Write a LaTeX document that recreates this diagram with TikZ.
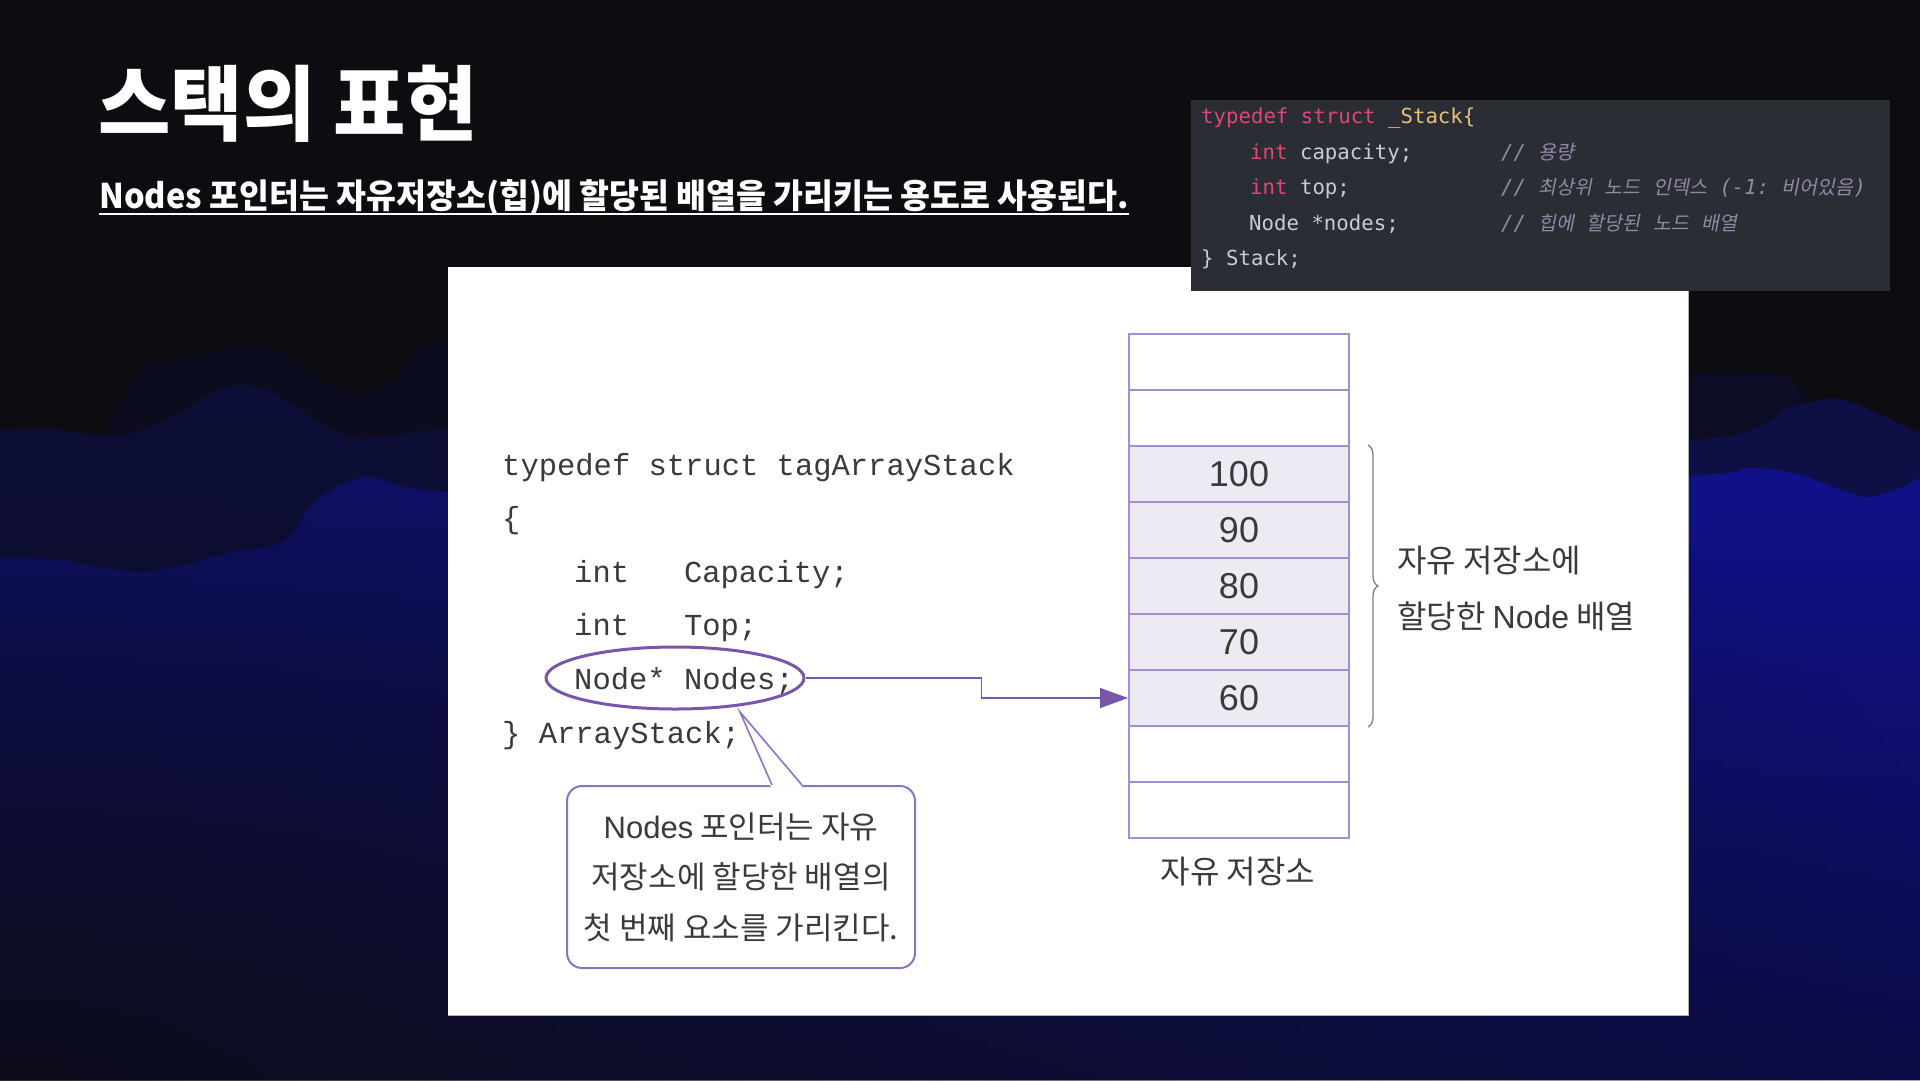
\documentclass[tikz,border=0pt]{standalone}
\usepackage{fontspec}
\usetikzlibrary{arrows.meta,decorations.pathreplacing,fadings,shapes.geometric}
\newfontfamily\krfont{Noto Sans CJK KR}
\newfontfamily\kritfont{Noto Sans CJK KR}[FakeSlant=0.2]
\newfontfamily\edfont{DejaVu Sans Mono}
\newfontfamily\pcode{Liberation Mono}
\newfontfamily\numfont{Liberation Sans}
\definecolor{bgtop}{HTML}{0C0C11}
\definecolor{waveA}{HTML}{0C0C24}
\definecolor{waveB}{HTML}{0E0F44}
\definecolor{waveCtop}{HTML}{10118A}
\definecolor{waveCbot}{HTML}{0C0C48}
\definecolor{boxbg}{HTML}{2B2D34}
\definecolor{kwpink}{HTML}{E0457B}
\definecolor{tyyel}{HTML}{E5C07B}
\definecolor{idgray}{HTML}{C8CCD4}
\definecolor{cmgray}{HTML}{8F8AA6}
\definecolor{ink}{HTML}{3A3A3A}
\definecolor{purp}{HTML}{7A56AB}
\definecolor{callpurp}{HTML}{8E72C2}
\definecolor{cellline}{HTML}{A58ED0}
\definecolor{cellfill}{HTML}{EEEAF4}
\definecolor{bracegray}{HTML}{7E7E7E}
\tikzfading[name=fadeblob, inner color=transparent!20, outer color=transparent!100]
\newcommand{\ko}[1]{{\kritfont\fontsize{19.5}{22}\selectfont #1}}
\tikzset{
  edline/.style={anchor=base west, inner sep=0, font=\edfont\fontsize{20.7}{25}\selectfont, text=idgray},
  edcomment/.style={anchor=base west, inner sep=0, font=\edfont\itshape\fontsize{20.7}{25}\selectfont, text=cmgray},
  pline/.style={anchor=base west, inner sep=0, font=\pcode\fontsize{30.5}{36}\selectfont, text=ink},
  cell/.style={draw=cellline, line width=2pt, minimum width=220pt, minimum height=56pt, inner sep=0, font=\numfont\fontsize{36}{40}\selectfont, text=ink},
  krlabel/.style={inner sep=0, font=\krfont\fontsize{32}{38}\selectfont, text=ink}
}
\begin{document}
\begin{tikzpicture}[x=1pt,y=-1pt]
\useasboundingbox (0,0) rectangle (1920,1080);
% background
\fill[bgtop] (0,0) rectangle (1920,1080);
\fill[waveA] (0,445) -- plot[smooth] coordinates {(100,440) (143,367) (200,355) (233,345) (267,347) (300,365) (333,387) (367,392) (400,375) (448,337) (700,320) (1000,330) (1300,340) (1688,372) (1780,374) (1812,402) (1845,400) (1920,433)} -- (1920,1080) -- (0,1080) -- cycle;
\fill[waveB] (0,430) -- plot[smooth] coordinates {(50,428) (117,436) (167,420) (200,400) (233,385) (267,390) (300,410) (350,437) (400,435) (448,430) (800,430) (1200,430) (1688,440) (1790,408) (1812,402) (1845,400) (1920,433)} -- (1920,1080) -- (0,1080) -- cycle;
\shade[top color=waveCtop, bottom color=waveCbot] (0,557) -- plot[smooth] coordinates {(67,560) (143,572) (233,552) (283,542) (317,500) (367,477) (448,492) (800,500) (1200,500) (1688,476) (1747,468) (1797,474) (1847,492) (1870,497) (1900,488) (1920,478)} -- (1920,1080) -- (0,1080) -- cycle;
\fill[bgtop, path fading=fadeblob] (-2000,80) rectangle (2000,2080);
% title
\node[anchor=west, text=white, inner sep=0] (title) at (98,104) {\scalebox{0.96}[1]{\krfont\bfseries\fontsize{82}{90}\selectfont 스택의 표현}};
\node[anchor=base west, text=white, inner sep=0] (sub) at (99,208) {\scalebox{0.956}[1]{\krfont\bfseries\fontsize{34}{40}\selectfont Nodes 포인터는 자유저장소(힙)에 할당된 배열을 가리키는 용도로 사용된다.}};
\draw[white, line width=2.5pt] ([yshift=-6pt]sub.base west) -- ([yshift=-6pt]sub.base east);
% white panel
\fill[white] (448,267) rectangle (1688,1015);
\draw[white!70!black, line width=0.8pt] (448,1015) -- (1688,1015) -- (1688,267);
% editor box
\fill[boxbg] (1191,100) rectangle (1890,291);
\node[edline] (e1) at (1201,123) {{\color{kwpink}typedef struct }{\color{tyyel}\_Stack\{}};
\node[edline] (e2) at (1250,159) {{\color{kwpink}int} capacity;};
\node[edline] (e3) at (1250,194) {{\color{kwpink}int} top;};
\node[edline] (e4) at (1249,230) {Node *nodes;};
\node[edline] (e5) at (1201,265) {\} Stack;};
\node[edcomment] (m2) at (1501,159) {//\ \ko{용량}};
\node[edcomment] (m3) at (1501,194) {//\ \ko{최상위}\ \ko{노드}\ \ko{인덱스}\ (-1:\ \ko{비어있음})};
\node[edcomment] (m4) at (1501,230) {//\ \ko{힙에}\ \ko{할당된}\ \ko{노드}\ \ko{배열}};
% panel code
\node[pline] (p1) at (502,475) {typedef struct tagArrayStack};
\node[pline] (p2) at (502,528.6) {\{};
\node[pline] (p3) at (574,582.2) {int\ \ \ Capacity;};
\node[pline] (p4) at (574,635.8) {int\ \ \ Top;};
\node[pline] (p5) at (574,689.4) {Node* Nodes;};
\node[pline] (p6) at (502,743) {\}\ ArrayStack;};
\node[ellipse, draw=purp, line width=3pt, minimum width=258pt, minimum height=62pt, inner sep=0] (ell) at (675,678) {};
% stack cells
\foreach \i/\v in {0/,1/,2/100,3/90,4/80,5/70,6/60,7/,8/}{
  \ifx\v\empty
    \node[cell] (c\i) at (1239,{362+56*\i}) {};
  \else
    \node[cell, fill=cellfill] (c\i) at (1239,{362+56*\i}) {\v};
  \fi
}
% arrow
\draw[purp, line width=1.6pt, -{Triangle[length=28pt,width=20pt]}] (ell.east) -- ++(176,0) |- (c6.west);
% brace
\draw[decorate, decoration={brace, amplitude=10pt}, bracegray, line width=1.3pt] ([xshift=18pt]c2.north east) -- ([xshift=18pt]c6.south east);
\node[krlabel, anchor=west] (lab1) at (1397,561) {자유 저장소에};
\node[krlabel, anchor=west] (lab2) at (1397,616) {할당한 {\numfont Node} 배열};
\node[krlabel] (heap) at (1238,872) {자유 저장소};
% callout
\node[draw=callpurp, line width=2pt, rounded corners=15pt, fill=white, minimum width=348pt, minimum height=182pt, inner sep=0, align=center, font=\krfont\fontsize{31}{50.5}\selectfont, text=ink] (call) at (741,877) {{\numfont Nodes} 포인터는 자유\\저장소에 할당한 배열의\\첫 번째 요소를 가리킨다.};
\coordinate (tip) at (740,712);
\fill[white] ([xshift=30pt,yshift=-2.5pt]call.north) -- (tip) -- ([xshift=62pt,yshift=-2.5pt]call.north) -- cycle;
\draw[callpurp, line width=1.6pt] ([xshift=31pt]call.north) -- (tip) -- ([xshift=61pt]call.north);
\end{tikzpicture}
\end{document}
